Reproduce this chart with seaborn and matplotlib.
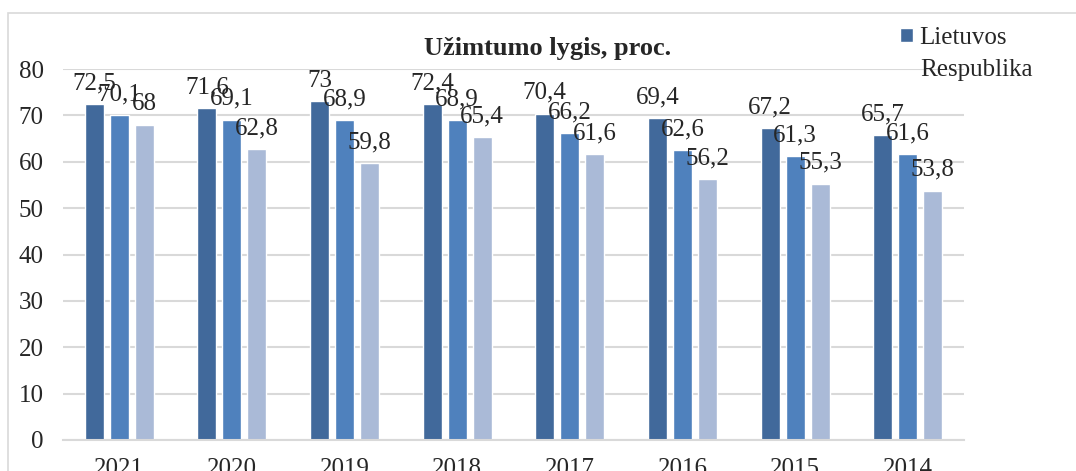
import numpy as np
import pandas as pd
import matplotlib
matplotlib.use("Agg")
import matplotlib.pyplot as plt
import seaborn as sns
from matplotlib.patches import Rectangle, Patch

# Duomenys
metai = ["2021", "2020", "2019", "2018", "2017", "2016", "2015", "2014"]
lietuvos_respublika = [72.5, 71.6, 73, 72.4, 70.4, 69.4, 67.2, 65.7]
serija_2 = [70.1, 69.1, 68.9, 68.9, 66.2, 62.6, 61.3, 61.6]
serija_3 = [68, 62.8, 59.8, 65.4, 61.6, 56.2, 55.3, 53.8]
serijos = ["Lietuvos Respublika", "Serija 2", "Serija 3"]
spalvos = ["#41699B", "#4F81BD", "#AABAD7"]

df = pd.DataFrame({
    "Metai": metai * 3,
    "Serija": [serijos[0]] * 8 + [serijos[1]] * 8 + [serijos[2]] * 8,
    "Reiksme": lietuvos_respublika + serija_2 + serija_3,
})

sns.set_style("white")
plt.rcParams["font.family"] = ["Liberation Serif", "DejaVu Serif"]

fig = plt.figure(figsize=(10.76, 4.71), dpi=100)
ax = fig.add_axes([63 / 1076, 1 - 440 / 471, 901 / 1076, 371 / 471])

sns.barplot(data=df, x="Metai", y="Reiksme", hue="Serija", order=metai,
            hue_order=serijos, palette=spalvos, width=0.667, gap=0.24,
            saturation=1, legend=False, ax=ax)

for cont in ax.containers:
    etiketes = [f"{v:g}".replace(".", ",") for v in cont.datavalues]
    ax.bar_label(cont, labels=etiketes, padding=7, fontsize=18)

ax.set_ylim(0, 80)
ax.set_xlim(-0.5, 7.5)
ax.set_yticks(range(0, 81, 10))
ax.yaxis.grid(True, color="#D9D9D9", linewidth=1.5)
ax.set_axisbelow(True)
for s in ["top", "right", "left"]:
    ax.spines[s].set_visible(False)
ax.spines["bottom"].set_color("#D9D9D9")
ax.spines["bottom"].set_linewidth(1.5)
ax.tick_params(axis="y", length=0, pad=14, labelsize=18)
ax.tick_params(axis="x", length=0, pad=13, labelsize=18)
ax.set_xlabel("")
ax.set_ylabel("")

fig.text(0.509, 1 - 49 / 471, "Užimtumo lygis, proc.", ha="center",
         va="center", fontsize=19, fontweight="bold")

fig.legend(handles=[Patch(facecolor=spalvos[0])], labels=["Lietuvos"],
           loc="upper left", bbox_to_anchor=(900 / 1076, 1 - 27 / 471),
           frameon=False, fontsize=18, handlelength=0.5, handleheight=0.5,
           handletextpad=0.25, borderpad=0, borderaxespad=0)
fig.text(920 / 1076, 1 - 70 / 471, "Respublika", ha="left", va="center",
         fontsize=18)

fig.patches.append(Rectangle((8 / 1076, -0.1), 1.2, 1 - 13 / 471 + 0.1,
                             transform=fig.transFigure, fill=False,
                             edgecolor="#D9D9D9", linewidth=1.2))

fig.savefig("out.png", dpi=100)
